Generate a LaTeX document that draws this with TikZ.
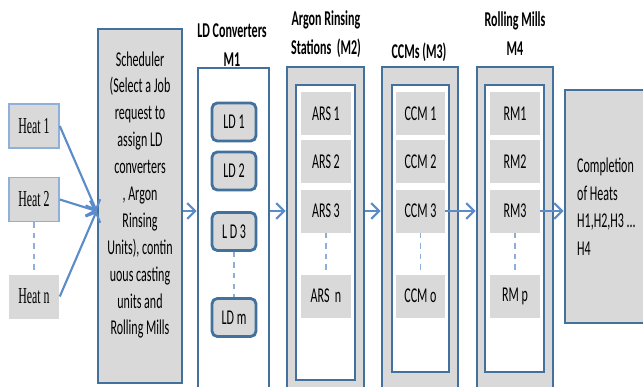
\documentclass[tikz,border=0pt]{standalone}
\usepackage{fontspec}
\setmainfont{Carlito}[FakeStretch=0.57]
\newfontfamily\heatfont{Liberation Serif}[FakeStretch=0.52]
\usetikzlibrary{arrows.meta}
\definecolor{boxblue}{HTML}{41719C}
\definecolor{lineblue}{HTML}{5B8BC8}
\definecolor{cellgray}{HTML}{D9D9D9}
\definecolor{heatline}{HTML}{8EB0DA}

\begin{document}
\begin{tikzpicture}[x=0.02cm, y=-0.02cm, font=\fontsize{12}{15.3}\selectfont,
    heat/.style={draw=heatline, line width=0.9pt, fill=cellgray, minimum width=1cm, minimum height=0.88cm, font=\heatfont\fontsize{13}{15}\selectfont},
    bigbox/.style={draw=boxblue, line width=1.6pt, fill=cellgray},
    innerbox/.style={draw=boxblue, line width=1.6pt, fill=white},
    ldbox/.style={draw=boxblue, line width=1.6pt, fill=cellgray, rounded corners=3pt, minimum width=0.88cm, minimum height=0.76cm},
    cell/.style={fill=cellgray, minimum width=1cm, minimum height=0.86cm},
    flow/.style={draw=lineblue, line width=1.2pt, -{Straight Barb[length=4.5pt,width=9pt]}},
    dots/.style={draw=lineblue!70, dashed, line width=0.6pt},
    title/.style={font=\bfseries\fontsize{12}{16.5}\selectfont, align=center}]
    \clip (0,0) rectangle (643,386);
    \coordinate (fl) at (0,211);

    % Heats
    \node[heat] (heat1) at (34,126) {Heat 1};
    \node[heat] (heat2) at (34,199.5) {Heat 2};
    \node[heat, draw=none] (heatn) at (34,296.5) {Heat n};
    \draw[dots, draw=heatline] (heat2.south) -- (heatn.north);

    % Scheduler
    \node[bigbox, minimum width=1.68cm, minimum height=7.08cm] (sched) at (140,206) {};
    \node[align=center] (schedtxt) at (140,195) {Scheduler\\(Select a Job\\request to\\assign LD\\converters\\, Argon\\Rinsing\\Units), contin\\uous casting\\units and\\Rolling Mills};

    % LD converters M1
    \node[title] (ldtitle) at (232,45) {LD Converters\\M1};
    \node[innerbox, minimum width=1.42cm, minimum height=6.48cm] (ld) at (233.5,230) {};
    \node[ldbox] (ld1) at (234,122) {LD 1};
    \node[ldbox] (ld2) at (234,171) {LD 2};
    \node[ldbox] (ld3) at (234,231.5) {L D 3};
    \node[ldbox] (ldm) at (234,317.5) {LD m};
    \draw[dots] (ld3.south) -- (ldm.north);

    % Argon rinsing stations M2
    \node[title] (arstitle) at (326,34) {Argon Rinsing\\Stations\ \ (M2)};
    \node[bigbox, minimum width=1.54cm, minimum height=6.5cm] (arsout) at (325.5,229.5) {};
    \node[innerbox, minimum width=1.18cm, minimum height=5.9cm] (arsin) at (325.5,232.5) {};
    \node[cell] (ars1) at (326,113.5) {ARS 1};
    \node[cell] (ars2) at (326,161.5) {ARS 2};
    \node[cell] (ars3) at (326,211) {ARS 3};
    \node[cell] (arsn) at (326,296) {ARS\ \ n};
    \draw[dots] (ars3.south) -- (arsn.north);

    % CCMs M3
    \node[title] (ccmtitle) at (419,52) {CCMs (M3)};
    \node[bigbox, minimum width=1.52cm, minimum height=6.5cm] (ccmout) at (420,229.5) {};
    \node[innerbox, minimum width=1.14cm, minimum height=5.74cm] (ccmin) at (420.5,228.5) {};
    \node[cell, minimum width=0.98cm] (ccm1) at (420.5,113.5) {CCM 1};
    \node[cell, minimum width=0.98cm] (ccm2) at (420.5,161.5) {CCM 2};
    \node[cell, minimum width=0.98cm] (ccm3) at (420.5,211) {CCM 3};
    \node[cell, minimum width=0.98cm] (ccmo) at (420.5,296) {CCM o};
    \draw[dots] (ccm3.south) -- (ccmo.north);

    % Rolling mills M4
    \node[title] (rmtitle) at (515,34) {Rolling Mills\\M4};
    \node[bigbox, minimum width=1.52cm, minimum height=6.5cm] (rmout) at (515,229.5) {};
    \node[innerbox, minimum width=1.18cm, minimum height=5.74cm] (rmin) at (514.5,228.5) {};
    \node[cell] (rm1) at (515,113.5) {RM1};
    \node[cell] (rm2) at (515,161.5) {RM2};
    \node[cell] (rm3) at (515,211) {RM3};
    \node[cell] (rmp) at (515,296) {RM p};
    \draw[dots] (rm3.south) -- (rmp.north);

    % Completion
    \node[bigbox, minimum width=1.7cm, minimum height=4.66cm] (compl) at (607.5,206.5) {};
    \node[anchor=west, align=left, font=\fontsize{12}{15.7}\selectfont] (compltxt) at (571,206.5) {Completion\\of Heats\\H1,H2,H3 ...\\H4};

    % Flow
    \coordinate (schin) at (sched.west |- fl);
    \draw[flow] (heat1.east) -- (schin);
    \draw[flow] (heat2.east) -- (schin);
    \draw[flow] (heatn.east) -- (schin);
    \draw[flow] (sched.east |- fl) -- (ld.west |- fl);
    \draw[flow] (ld.east |- fl) -- (arsout.west |- fl);
    \draw[flow] (arsout.east |- fl) -- (ccmout.west |- fl);
    \draw[flow] (ccm3.east) -- (rmout.west |- ccm3);
    \draw[flow] (rm3.east) -- (compl.west |- rm3);
\end{tikzpicture}
\end{document}
